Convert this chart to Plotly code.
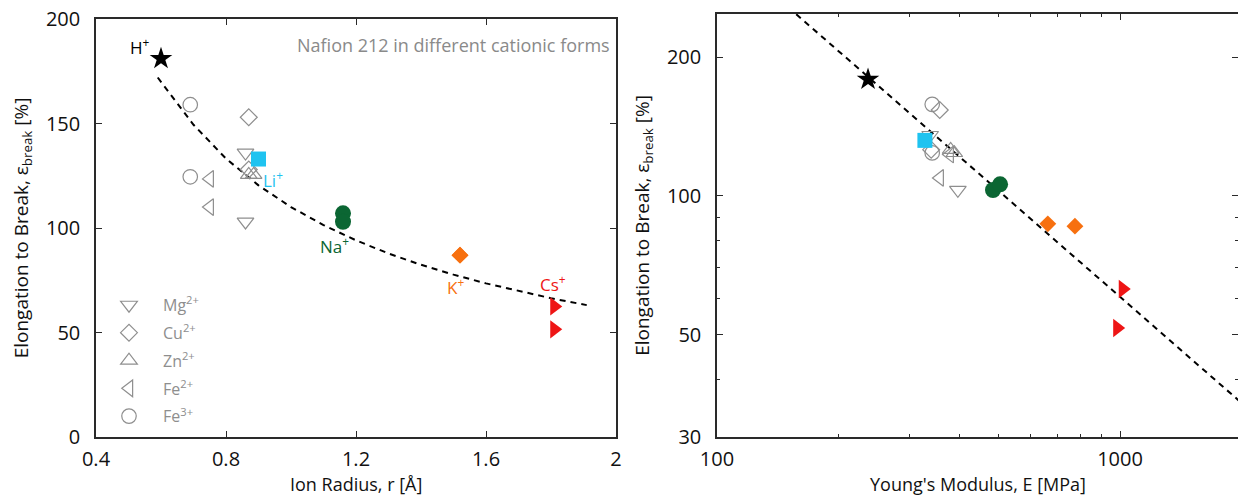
import plotly.graph_objects as go

# ---------------- Left panel: elongation vs ion radius ----------------
h_r = [0.60];              h_eps = [181]
li_r = [0.90];             li_eps = [133]
na_r = [1.16, 1.16];       na_eps = [107, 103]
k_r = [1.52, 1.52];        k_eps = [87, 87]
cs_r = [1.81, 1.81];       cs_eps = [62.5, 51.5]
mg_r = [0.86, 0.86];       mg_eps = [136, 103]
cu_r = [0.87, 0.87];       cu_eps = [153, 128]
zn_r = [0.87, 0.885];      zn_eps = [125.5, 125.5]
fe2_r = [0.75, 0.75];      fe2_eps = [123.5, 110]
fe3_r = [0.69, 0.69];      fe3_eps = [159, 124.5]
fit_r = [0.59, 0.70, 0.80, 0.90, 1.00, 1.10, 1.20, 1.30, 1.40, 1.50, 1.60, 1.70, 1.80, 1.91]
fit_eps = [172, 149.4, 133.2, 120.4, 110, 101.4, 94.1, 87.8, 82.4, 77.7, 73.5, 69.8, 66.4, 63.1]

# ---------------- Right panel: elongation vs Young's modulus ----------------
h_E = [237];               h_eps2 = [179]
li_E = [328];              li_eps2 = [132]
na_E = [484, 504];         na_eps2 = [103, 106]
k_E = [662, 773];          k_eps2 = [87, 86]
cs_E = [1016, 984];        cs_eps2 = [62.8, 51.7]
mg_E = [338, 396];         mg_eps2 = [135.5, 103]
cu_E = [357, 340];         cu_eps2 = [153.6, 126]
zn_E = [380, 388];         zn_eps2 = [126, 124]
fe2_E = [357, 378];        fe2_eps2 = [109.4, 123]
fe3_E = [342, 342];        fe3_eps2 = [158, 124]
fitE_E = [150, 2000];      fitE_eps = [257, 35.6]

ion_labels = ["H<sup>+</sup>", "Li<sup>+</sup>", "Na<sup>+</sup>", "K<sup>+</sup>", "Cs<sup>+</sup>"]
legend_names = ["Mg<sup>2+</sup>", "Cu<sup>2+</sup>", "Zn<sup>2+</sup>", "Fe<sup>2+</sup>", "Fe<sup>3+</sup>"]
x_titles = ["Ion Radius, r [Å]", "Young's Modulus, E [MPa]"]
ytitle = "Elongation to Break, ε<sub>break</sub> [%]"

GRAY = "#8e8e8e"
CYAN = "#1fc3f0"
GREEN = "#0b6633"
ORANGE = "#f7700f"
RED = "#ee1515"
FONT = "Open Sans"

fig = go.Figure()

def add_set(xs, ys, xa, ya, symbol, color, size, name=None, legend=False, lw=0):
    fig.add_trace(go.Scatter(
        x=xs, y=ys, xaxis=xa, yaxis=ya, mode="markers", name=name,
        showlegend=legend, legendgroup=name,
        marker=dict(symbol=symbol, color=color, size=size,
                    line=dict(color=color, width=lw)),
        hoverinfo="skip"))

# fit lines
fig.add_trace(go.Scatter(x=fit_r, y=fit_eps, xaxis="x", yaxis="y", mode="lines",
                         line=dict(color="black", width=2, dash="6px,5px"),
                         showlegend=False, hoverinfo="skip"))
fig.add_trace(go.Scatter(x=fitE_E, y=fitE_eps, xaxis="x2", yaxis="y2", mode="lines",
                         line=dict(color="black", width=2, dash="6px,5px"),
                         showlegend=False, hoverinfo="skip"))

open_sets = [
    (mg_r, mg_eps, mg_E, mg_eps2, "triangle-down-open", 14.5, legend_names[0]),
    (cu_r, cu_eps, cu_E, cu_eps2, "diamond-open", 13, legend_names[1]),
    (zn_r, zn_eps, zn_E, zn_eps2, "triangle-up-open", 14.5, legend_names[2]),
    (fe2_r, fe2_eps, fe2_E, fe2_eps2, "triangle-left-open", 14.5, legend_names[3]),
    (fe3_r, fe3_eps, fe3_E, fe3_eps2, "circle-open", 14.5, legend_names[4]),
]
for xr, yr, xe, ye, sym, sz, nm in open_sets:
    add_set(xr, yr, "x", "y", sym, GRAY, sz, name=nm, legend=True, lw=1.2)
    add_set(xe, ye, "x2", "y2", sym, GRAY, sz, name=nm, legend=False, lw=1.2)

filled_sets = [
    (h_r, h_eps, h_E, h_eps2, "star", "black", 17),
    (li_r, li_eps, li_E, li_eps2, "square", CYAN, 15),
    (na_r, na_eps, na_E, na_eps2, "circle", GREEN, 16),
    (k_r, k_eps, k_E, k_eps2, "diamond", ORANGE, 13),
    (cs_r, cs_eps, cs_E, cs_eps2, "triangle-right", RED, 16),
]
for xr, yr, xe, ye, sym, col, sz in filled_sets:
    add_set(xr, yr, "x", "y", sym, col, sz)
    add_set(xe, ye, "x2", "y2", sym, col, sz)

W, H = 1238, 497
TFONT = dict(family=FONT, size=19, color="#111")

# ion labels on left panel
label_pos = [(0.535, 187, "black"), (0.945, 123, CYAN), (1.135, 91.5, GREEN),
             (1.505, 72, ORANGE), (1.806, 73.5, RED)]
annotations = []
for (lx, ly, col), txt in zip(label_pos, ion_labels):
    annotations.append(dict(x=lx, y=ly, xref="x", yref="y", text=txt, showarrow=False,
                            font=dict(family=FONT, size=17, color=col)))
annotations.append(dict(x=612 / W, y=1 - 45 / H, xref="paper", yref="paper",
                        xanchor="right", yanchor="middle", showarrow=False,
                        text="Nafion 212 in different cationic forms",
                        font=dict(family=FONT, size=18, color="#8a8a8a")))
# x-axis titles
for xd, txt in zip(["x domain", "x2 domain"], x_titles):
    annotations.append(dict(x=0.5, xref=xd, y=0, yref="paper",
                            xanchor="center", yanchor="bottom", showarrow=False,
                            text=txt, font=dict(family=FONT, size=18, color="#111"),
                            borderpad=0))

axis_common = dict(showline=True, linecolor="#2a2a2a", linewidth=1.5, mirror="ticks",
                   ticks="inside", ticklen=6, tickwidth=1.2, tickcolor="#2a2a2a",
                   showgrid=False, zeroline=False, automargin=False,
                   tickfont=dict(family=FONT, size=20, color="#111"))

fig.update_layout(
    width=W, height=H, margin=dict(l=0, r=0, t=0, b=0, autoexpand=False),
    paper_bgcolor="white", plot_bgcolor="white",
    font=dict(family=FONT, color="#111"),
    xaxis=dict(domain=[96 / W, 616 / W], anchor="y", range=[0.4, 2.0],
               tickmode="array", tickvals=[0.4, 0.8, 1.2, 1.6, 2.0],
               ticktext=["0.4", "0.8", "1.2", "1.6", "2"], ticklabelstandoff=3,
               **axis_common),
    yaxis=dict(domain=[(H - 437) / H, (H - 19) / H], anchor="x", range=[0, 200],
               tickmode="array", tickvals=[0, 50, 100, 150, 200], ticklabelstandoff=10,
               title=dict(text=ytitle, font=TFONT, standoff=12),
               **axis_common),
    xaxis2=dict(domain=[717 / W, 1.0], anchor="y2", type="log", range=[2, 3.2928],
                tickmode="array", tickvals=[100, 1000], ticktext=["100", "1000"],
                ticklabelstandoff=3,
                minor=dict(tickmode="array", tickvals=[200, 300, 400, 500, 600, 700, 800, 900],
                           ticks="inside", ticklen=3, tickcolor="#2a2a2a", tickwidth=1),
                **axis_common),
    yaxis2=dict(domain=[(H - 437) / H, (H - 14) / H], anchor="x2", type="log",
                range=[1.4771, 2.3947],
                tickmode="array", tickvals=[30, 50, 100, 200], ticktext=["30", "50", "100", "200"],
                ticklabelstandoff=10,
                minor=dict(tickmode="array", tickvals=[40, 60, 70, 80, 90],
                           ticks="inside", ticklen=3, tickcolor="#2a2a2a", tickwidth=1),
                title=dict(text=ytitle, font=TFONT, standoff=12),
                **axis_common),
    legend=dict(x=95 / W, y=1 - 288 / H, xanchor="left", yanchor="top",
                bgcolor="rgba(0,0,0,0)", itemwidth=58, tracegroupgap=4,
                font=dict(family=FONT, size=16, color=GRAY)),
    annotations=annotations,
)

fig.write_html("out.html", config={"displayModeBar": False},
               post_script="document.body.style.margin='0px';")
